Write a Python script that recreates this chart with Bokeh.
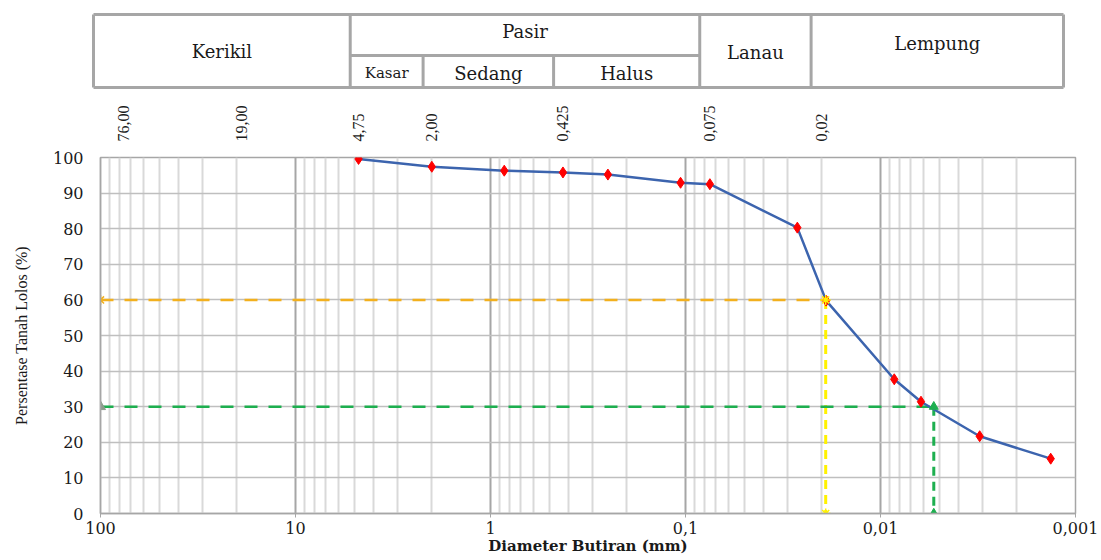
import math
import numpy as np
from bokeh.plotting import figure
from bokeh.layouts import column
from bokeh.models import Range1d, FixedTicker, CustomJSTickFormatter, LogAxis
from bokeh.embed import file_html
from bokeh.resources import INLINE
from bokeh.core.properties import value

# ---------------- data ----------------
diameter = [4.75, 2.0, 0.85, 0.425, 0.25, 0.106, 0.075, 0.0267, 0.0190, 0.0085, 0.0062, 0.0031, 0.00134]
passing = [99.6, 97.4, 96.3, 95.8, 95.2, 92.9, 92.5, 80.3, 59.8, 37.7, 31.4, 21.7, 15.4]

d60 = 0.0191
d30 = 0.00533

x_ticks = [100, 10, 1, 0.1, 0.01, 0.001]
x_tick_labels = ["100", "10", "1", "0,1", "0,01", "0,001"]
y_ticks = [0, 10, 20, 30, 40, 50, 60, 70, 80, 90, 100]

sieve_sizes = [76.0, 19.0, 4.75, 2.0, 0.425, 0.075, 0.02]
sieve_labels = ["76,00", "19,00", "4,75", "2,00", "0,425", "0,075", "0,02"]

# soil classification table (boundaries in mm)
tbl_bounds = [100, 4.75, 2.0, 0.425, 0.075, 0.02, 0.001]
tbl_main = ["Kerikil", "Pasir", "Lanau", "Lempung"]
tbl_sub = ["Kasar", "Sedang", "Halus"]

minor_ticks = [m * 10.0 ** k for k in range(-3, 2) for m in range(2, 10)]

SERIF_WIDE = "DejaVu Serif"
SERIF = "Liberation Serif"
GRID_MAJ = "#a6a6a6"
GRID_MIN = "#d9d9d9"
TXT = "#1a1a1a"

# ---------------- table figure ----------------
pad = 8 / 194.0
t = figure(width=1100, height=92, x_axis_type="log",
           x_range=Range1d(10 ** (2 + pad), 10 ** (-3 - pad)),
           y_range=Range1d(92, 0),
           output_backend="svg", toolbar_location=None,
           min_border_left=85, min_border_right=29, min_border_top=0, min_border_bottom=0)
t.frame_align = False
t.axis.visible = False
t.grid.visible = False
t.outline_line_color = None

y_top, y_mid, y_bot = 14, 55, 87
b = tbl_bounds
xs_h = [[b[0], b[-1]], [b[0], b[-1]], [b[1], b[4]]]
ys_h = [[y_top, y_top], [y_bot, y_bot], [y_mid, y_mid]]
full_v = [b[0], b[1], b[4], b[5], b[6]]
part_v = [b[2], b[3]]
xs_v = [[v, v] for v in full_v] + [[v, v] for v in part_v]
ys_v = [[y_top, y_bot] for _ in full_v] + [[y_mid, y_bot] for _ in part_v]
t.multi_line(xs_h + xs_v, ys_h + ys_v, line_color=GRID_MAJ, line_width=3)


def gmean(a, c):
    return 10 ** ((math.log10(a) + math.log10(c)) / 2)


main_x = [gmean(b[0], b[1]), gmean(b[1], b[4]), gmean(b[4], b[5]), gmean(b[5], b[6])]
main_y = [51, 31, 52, 43]
t.text(main_x, main_y, text=tbl_main, text_align="center", text_baseline="middle",
       text_font=value(SERIF_WIDE), text_font_size="18px", text_color=TXT)
sub_x = [gmean(b[1], b[2]), gmean(b[2], b[3]), gmean(b[3], b[4])]
sub_y = [72, 73, 73]
t.text(sub_x, sub_y, text=tbl_sub, text_align="center", text_baseline="middle",
       text_font=value(SERIF_WIDE), text_font_size=["15px", "18px", "18px"], text_color=TXT)

# ---------------- main figure ----------------
p = figure(width=1100, height=468, x_axis_type="log",
           x_range=Range1d(100, 0.001), y_range=Range1d(0, 100),
           output_backend="svg", toolbar_location=None,
           min_border_left=100, min_border_right=25, min_border_top=65, min_border_bottom=47)
p.frame_align = False

p.outline_line_color = GRID_MAJ
p.outline_line_width = 1.5

xfmt = CustomJSTickFormatter(args=dict(vals=x_ticks, labs=x_tick_labels), code="""
for (let i = 0; i < vals.length; i++) { if (Math.abs(Math.log10(vals[i]) - Math.log10(tick)) < 1e-6) return labs[i]; }
return '';
""")
p.xaxis.ticker = FixedTicker(ticks=x_ticks, minor_ticks=minor_ticks)
p.xaxis.formatter = xfmt
p.xaxis.major_label_text_font = SERIF_WIDE
p.xaxis.major_label_text_font_size = "16px"
p.xaxis.major_label_text_color = TXT
p.xaxis.major_tick_out = 4
p.xaxis.major_tick_in = 0
p.xaxis.major_tick_line_color = GRID_MAJ
p.xaxis.minor_tick_out = 0
p.xaxis.minor_tick_in = 0
p.xaxis.major_label_standoff = 4
p.xaxis.axis_line_color = GRID_MAJ
p.xaxis.axis_line_width = 1.5
p.xaxis.axis_label = "Diameter Butiran (mm)"
p.xaxis.axis_label_text_font = SERIF_WIDE
p.xaxis.axis_label_text_font_style = "bold"
p.xaxis.axis_label_text_font_size = "15px"
p.xaxis.axis_label_text_color = TXT
p.xaxis.axis_label_standoff = 0

p.yaxis.ticker = FixedTicker(ticks=y_ticks)
p.yaxis.major_label_text_font = SERIF_WIDE
p.yaxis.major_label_text_font_size = "16px"
p.yaxis.major_label_text_color = TXT
p.yaxis.major_tick_out = 0
p.yaxis.major_tick_in = 0
p.yaxis.minor_tick_out = 0
p.yaxis.minor_tick_in = 0
p.yaxis.major_label_standoff = 17
p.yaxis.axis_line_color = GRID_MAJ
p.yaxis.axis_line_width = 1.5
p.yaxis.axis_label = "Persentase Tanah Lolos (%)"
p.yaxis.axis_label_text_font = SERIF
p.yaxis.axis_label_text_font_style = "normal"
p.yaxis.axis_label_text_font_size = "16px"
p.yaxis.axis_label_text_color = TXT
p.yaxis.axis_label_standoff = 20

p.xgrid.grid_line_color = GRID_MAJ
p.xgrid.grid_line_width = 2
p.xgrid.minor_grid_line_color = GRID_MIN
p.xgrid.minor_grid_line_width = 2
p.ygrid.grid_line_color = "#bfbfbf"
p.ygrid.grid_line_width = 1.5

top_fmt = CustomJSTickFormatter(args=dict(vals=sieve_sizes, labs=sieve_labels), code="""
for (let i = 0; i < vals.length; i++) { if (Math.abs(vals[i] - tick) < 1e-9) return labs[i]; }
return '';
""")
top = LogAxis(ticker=FixedTicker(ticks=sieve_sizes), formatter=top_fmt,
              major_label_orientation=math.pi / 2,
              axis_line_color=None, major_tick_line_color=None, minor_tick_line_color=None,
              major_label_standoff=10,
              major_label_text_font=SERIF, major_label_text_font_size="16px",
              major_label_text_color=TXT)
p.add_layout(top, "above")

ORANGE = "#F2B01E"
YELLOW = "#FFF200"
GREEN = "#1DAF4F"

# reference lines
p.line([x_ticks[0], d60], [60, 60], line_color=ORANGE, line_width=2.5, line_dash="13 11")
p.line([d60, d60], [60, 0], line_color=YELLOW, line_width=3, line_dash="9 6")
p.line([x_ticks[0], d30], [30, 30], line_color=GREEN, line_width=2.5, line_dash="13 11")
p.line([d30, d30], [30, 0], line_color=GREEN, line_width=3, line_dash="9 6")

# grading curve
p.line(diameter, passing, line_color="#3C64AE", line_width=2.5)
p.scatter(diameter, passing, marker="diamond", size=11, fill_color="#FF0000", line_color="#FF0000")

# end markers
p.scatter([x_ticks[0], d60, d60], [60, 60, 0], marker="asterisk", size=10,
          line_color=[ORANGE, YELLOW, YELLOW], line_width=1.5)
p.scatter([x_ticks[0]], [30], marker="triangle", size=10, fill_color="#8c9c8c", line_color="#8c9c8c")
p.scatter([d30, d30], [30, 0], marker="triangle", size=9, fill_color=GREEN, line_color=GREEN)

layout = column(t, p, spacing=0)
open("out.html", "w").write(file_html(layout, INLINE))
